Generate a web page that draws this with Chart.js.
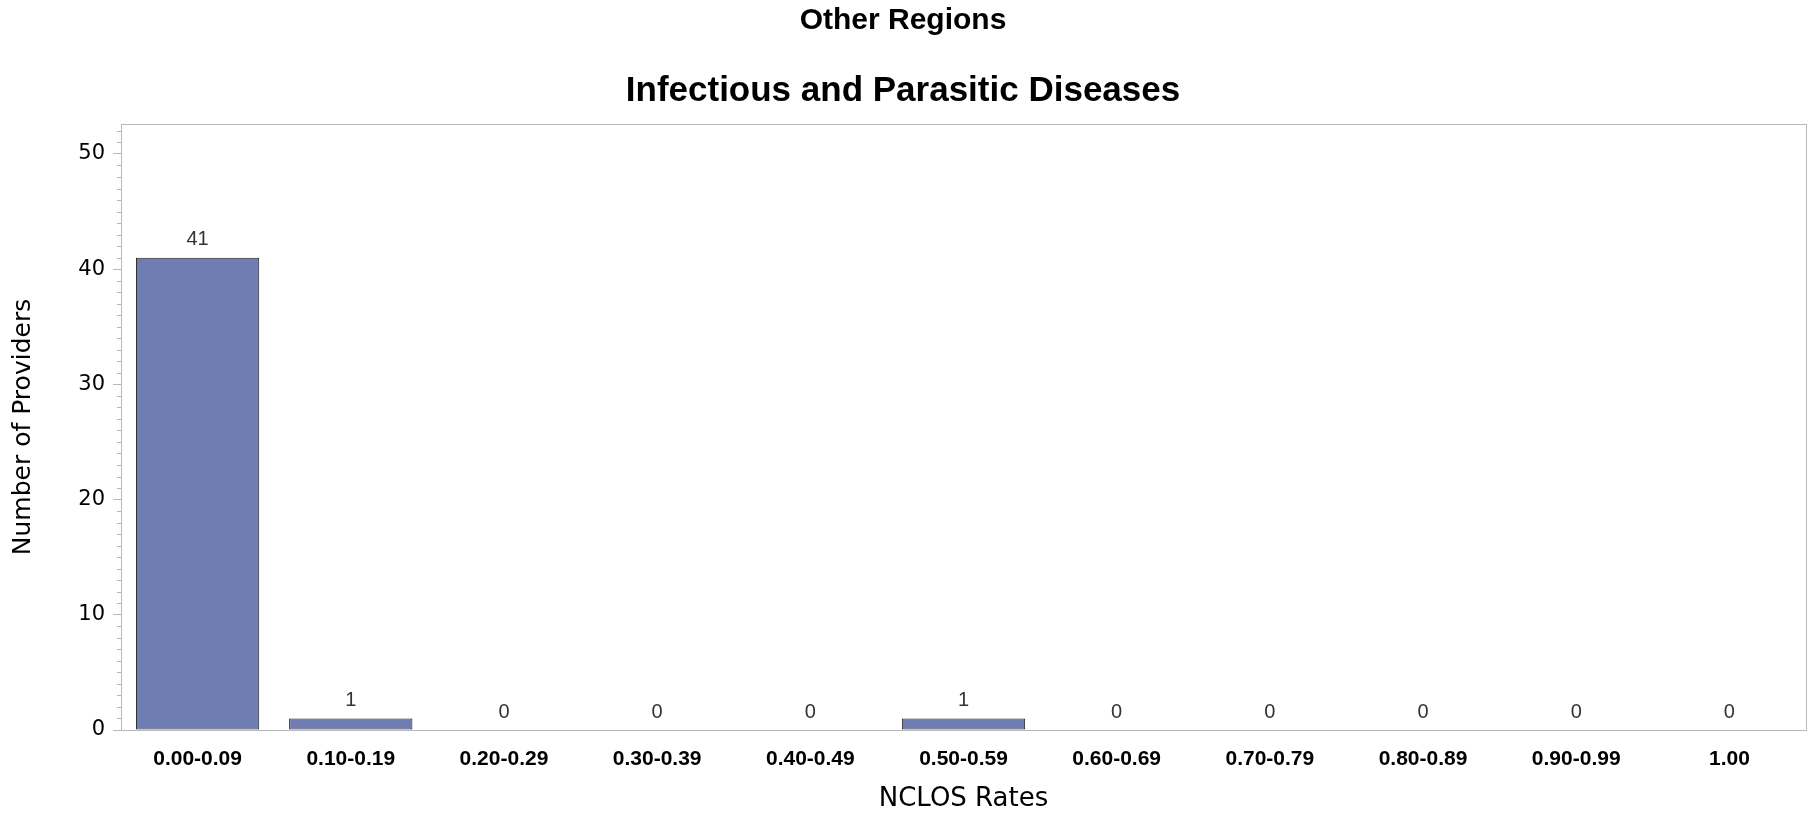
<!DOCTYPE html>
<html>
<head>
<meta charset="utf-8">
<script src="https://cdn.jsdelivr.net/npm/chart.js@4/dist/chart.umd.min.js"></script>
<style>
  html, body { margin: 0; padding: 0; background: #ffffff; }
  #wrap { width: 1812px; height: 815px; }
</style>
</head>
<body>
<div id="wrap"><canvas id="c" width="1812" height="815"></canvas></div>
<script>
const chartTitle = 'Other Regions';
const chartSubtitle = 'Infectious and Parasitic Diseases';
const xAxisTitle = 'NCLOS Rates';
const yAxisTitle = 'Number of Providers';
const categories = ['0.00-0.09', '0.10-0.19', '0.20-0.29', '0.30-0.39', '0.40-0.49',
                    '0.50-0.59', '0.60-0.69', '0.70-0.79', '0.80-0.89', '0.90-0.99', '1.00'];
const providerCounts = [41, 1, 0, 0, 0, 1, 0, 0, 0, 0, 0];
const yMajorTicks = [0, 10, 20, 30, 40, 50];
const yMin = 0;
const yMax = 52.6;

const FRAME = '#B5B9BD';

const framePlugin = {
  id: 'frameAndMinor',
  afterDraw(chart) {
    const { ctx, chartArea: a } = chart;
    const ys = chart.scales.y;
    ctx.save();
    ctx.strokeStyle = FRAME;
    ctx.lineWidth = 1;
    ys.ticks.forEach(t => {
      if (!yMajorTicks.includes(t.value)) {
        const py = Math.round(ys.getPixelForValue(t.value)) + 0.5;
        ctx.beginPath();
        ctx.moveTo(a.left - 4, py);
        ctx.lineTo(a.left, py);
        ctx.stroke();
      }
    });
    ctx.strokeRect(Math.round(a.left) + 0.5, Math.round(a.top) + 0.5,
                   Math.round(a.right - a.left), Math.round(a.bottom - a.top));
    ctx.restore();
  }
};

const labelPlugin = {
  id: 'valueLabels',
  afterDatasetsDraw(chart) {
    const { ctx } = chart;
    const meta = chart.getDatasetMeta(0);
    ctx.save();
    ctx.fillStyle = '#333333';
    ctx.font = '20px "Liberation Sans", Arial, sans-serif';
    ctx.textAlign = 'center';
    ctx.textBaseline = 'middle';
    meta.data.forEach((el, i) => {
      ctx.fillText(String(providerCounts[i]), el.x, el.y - 18);
    });
    ctx.restore();
  }
};

new Chart(document.getElementById('c'), {
  type: 'bar',
  data: {
    labels: categories,
    datasets: [{
      data: providerCounts,
      backgroundColor: '#6F7DB2',
      borderColor: '#1E1E1E',
      borderWidth: 1,
      borderSkipped: false,
      barPercentage: 0.805,
      categoryPercentage: 1.0
    }]
  },
  options: {
    responsive: false,
    animation: false,
    devicePixelRatio: 1,
    layout: { padding: { left: 0, right: 6, top: 0, bottom: 0 } },
    plugins: {
      legend: { display: false },
      tooltip: { enabled: false },
      title: {
        display: true,
        text: chartTitle,
        color: '#000',
        font: { family: '"Liberation Sans", Arial, sans-serif', size: 30, weight: 'bold' },
        padding: { top: 3, bottom: 10 }
      },
      subtitle: {
        display: true,
        text: chartSubtitle,
        color: '#000',
        font: { family: '"Liberation Sans", Arial, sans-serif', size: 35, weight: 'bold' },
        padding: { top: 21, bottom: 12 }
      }
    },
    scales: {
      x: {
        grid: { display: false },
        border: { display: false },
        ticks: {
          color: '#000',
          font: { family: '"Liberation Sans", Arial, sans-serif', size: 21, weight: 'bold' },
          padding: 9,
          maxRotation: 0,
          autoSkip: false
        },
        title: {
          display: true,
          text: xAxisTitle,
          color: '#000',
          font: { family: '"DejaVu Sans", sans-serif', size: 26 },
          padding: { top: 0, bottom: 0 }
        },
        afterFit(scale) { scale.height = 85; }
      },
      y: {
        min: yMin,
        max: yMax,
        grid: {
          display: true,
          drawOnChartArea: false,
          drawTicks: true,
          tickLength: 8,
          tickColor: ctx => (ctx.tick && yMajorTicks.includes(ctx.tick.value)) ? FRAME : 'rgba(0,0,0,0)'
        },
        border: { display: false },
        ticks: {
          stepSize: 1,
          includeBounds: false,
          autoSkip: false,
          color: '#000',
          padding: 8,
          font: { family: '"DejaVu Sans", sans-serif', size: 21 },
          callback: v => yMajorTicks.includes(v) ? String(v) : ''
        },
        title: {
          display: true,
          text: yAxisTitle,
          color: '#000',
          font: { family: '"DejaVu Sans", sans-serif', size: 25 },
          padding: { top: 8, bottom: 0 }
        },
        afterFit(scale) { scale.width = 121; }
      }
    }
  },
  plugins: [framePlugin, labelPlugin]
});
</script>
</body>
</html>
